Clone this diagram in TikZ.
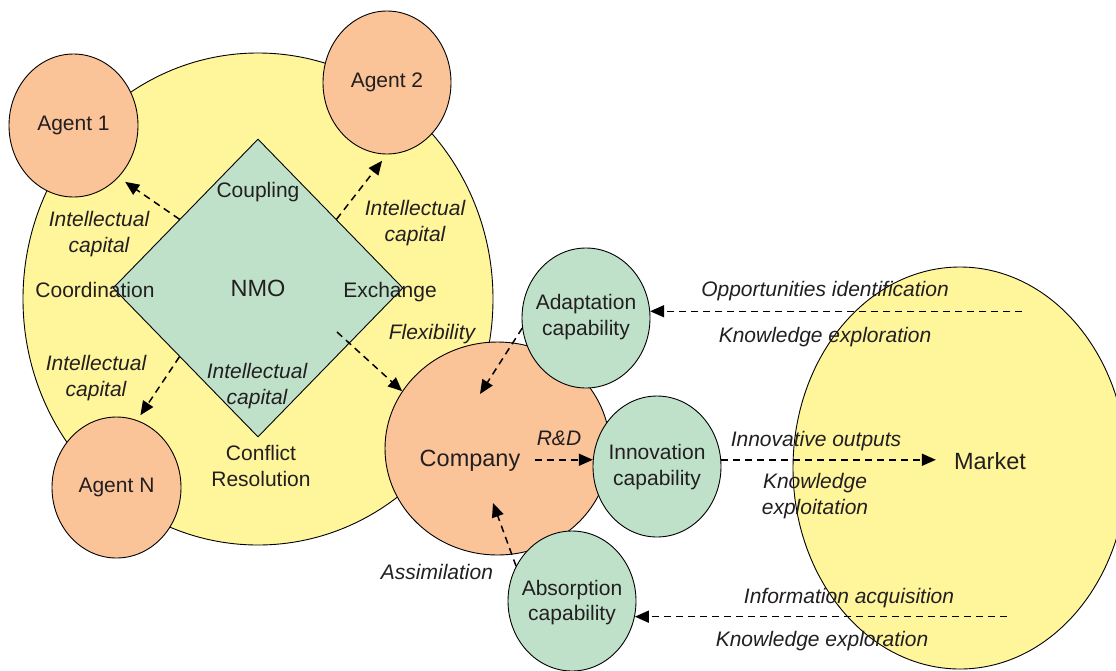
\documentclass[tikz,border=0pt]{standalone}
\usepackage{fontspec}
\setmainfont{Liberation Sans}
\usetikzlibrary{shapes.geometric, arrows.meta, calc}
\definecolor{lemon}{HTML}{FFF59B}
\definecolor{peach}{HTML}{FAC398}
\definecolor{mint}{HTML}{BFE1C9}
\definecolor{ink}{HTML}{231F20}
\tikzset{
  blob/.style={ellipse, draw=black, line width=0.9pt, inner sep=0pt},
  agent/.style={blob, fill=peach, text=ink, font=\fontsize{21}{25.5}\selectfont},
  capab/.style={blob, fill=mint, minimum width=128pt, minimum height=141pt},
  lbl/.style={text=ink, font=\fontsize{21}{25.5}\selectfont, align=center, inner sep=2pt},
  ilbl/.style={lbl, font=\fontsize{21}{25.5}\selectfont\itshape},
  big/.style={lbl, font=\fontsize{23.5}{28}\selectfont},
  flow/.style={dash pattern=on 7pt off 5pt, line width=1.5pt, -{Triangle[length=14pt,width=12pt]}}
}
\begin{document}
\begin{tikzpicture}[x=1pt, y=-1pt]
\useasboundingbox (0,0) rectangle (1116,670);
\clip (0,0) rectangle (1116,670);
% network of agents
\node[blob, fill=lemon, minimum width=470pt, minimum height=492pt] (nwk) at (258,299) {};
\node[agent, minimum width=129pt, minimum height=143pt] (agent1) at (73.5,125.5) {Agent 1};
\node[agent, minimum width=128pt, minimum height=143pt] (agent2) at (387,82.5) {Agent 2};
\node[agent, minimum width=129pt, minimum height=141pt] (agentN) at (116.5,487.5) {Agent N};
\node[diamond, draw=black, line width=0.9pt, fill=mint, minimum width=290pt, minimum height=298pt,
  inner sep=0pt, text=ink, font=\fontsize{23.5}{28}\selectfont] (nmo) at (258,288) {NMO};
% company and capabilities
\node[blob, fill=peach, minimum width=225pt, minimum height=213pt] (company) at (497.5,448.5) {};
\node[capab, minimum height=140pt] (adaptation) at (586,318) {};
\node[capab] (innovation) at (657,466.5) {};
\node[capab, minimum height=140pt] (absorption) at (572,601) {};
\node[blob, fill=lemon, minimum width=334pt, minimum height=402pt] (market) at (960,468) {};
% labels
\node[lbl] (coupling) at (258,192) {Coupling};
\node[lbl] (coord) at (95,290) {Coordination};
\node[lbl] (exch) at (390,292) {Exchange};
\node[lbl] (conflict) at (261,466) {Conflict\\Resolution};
\node[ilbl] (icnw) at (99,234) {Intellectual\\capital};
\node[ilbl] (icne) at (415,223) {Intellectual\\capital};
\node[ilbl] (icsw) at (96,378) {Intellectual\\capital};
\node[ilbl] (ics) at (257,386) {Intellectual\\capital};
\node[ilbl] (flex) at (432,334) {Flexibility};
\node[big] (comptxt) at (470,461) {Company};
\node[ilbl] (rd) at (559,438) {R\&D};
\node[lbl] (adapttxt) at (586,317) {Adaptation\\capability};
\node[lbl] (innotxt) at (657,467) {Innovation\\capability};
\node[lbl] (absorbtxt) at (572,602.5) {Absorption\\capability};
\node[ilbl] (assim) at (437,572) {Assimilation};
\node[ilbl] (oppid) at (825,291) {Opportunities identification};
\node[ilbl] (kexp1) at (825,337) {Knowledge exploration};
\node[ilbl] (innout) at (816,441) {Innovative outputs};
\node[ilbl] (kexploit) at (815,496) {Knowledge\\exploitation};
\node[ilbl] (infoacq) at (849,598) {Information acquisition};
\node[ilbl] (kexp2) at (822,641) {Knowledge exploration};
\node[big] (markettxt) at (990,461) {Market};
% flows
\coordinate (nmotail) at ($(nmo.center)+(79,44)$);
\coordinate (mkopp) at ($(market.center)+(62,0)$);
\coordinate (mkinfo) at ($(market.center)+(47,0)$);
\draw[flow, shorten >=8pt] ($(nmo.west)!0.46!(nmo.north)$) -- (agent1.-49);
\draw[flow, shorten >=8pt] ($(nmo.north)!0.54!(nmo.east)$) -- (agent2.south);
\draw[flow, shorten >=6pt] ($(nmo.west)!0.46!(nmo.south)$) -- (agentN.73);
\draw[flow] (nmotail) -- (company.149);
\draw[flow] (adaptation.189) -- ($(company.center)+(-17.5,-54.5)$);
\draw[flow] (rd.west |- innovation.174) -- (innovation.174);
\draw[flow] (absorption.148) -- ($(company.center)+(-4.5,54.5)$);
\draw[flow, shorten >=16pt] (innovation.6) -- (innovation.6 -| markettxt.west);
\draw[flow] (mkopp |- adaptation.6) -- (adaptation.6);
\draw[flow] (mkinfo |- absorption.-14) -- (absorption.-14);
\end{tikzpicture}
\end{document}
